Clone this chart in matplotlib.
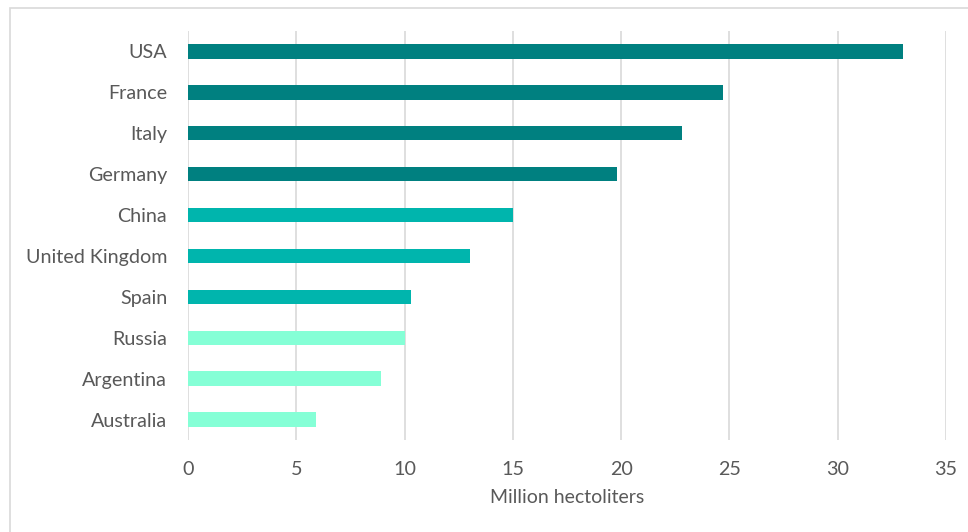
import matplotlib
matplotlib.use("Agg")
import matplotlib.pyplot as plt
from matplotlib.patches import Rectangle

countries = ["USA", "France", "Italy", "Germany", "China", "United Kingdom",
             "Spain", "Russia", "Argentina", "Australia"]
values = [33.0, 24.7, 22.8, 19.8, 15.0, 13.0, 10.3, 10.0, 8.9, 5.9]
colors = ["#008080"] * 4 + ["#00B5AD"] * 3 + ["#85FFD6"] * 3
xticks = [0, 5, 10, 15, 20, 25, 30, 35]

plt.rcParams['font.family'] = ['Lato', 'DejaVu Sans']

fig = plt.figure(figsize=(9.68, 5.32), dpi=100)
W, H = 968, 532
ax = fig.add_axes([188 / W, 1 - 440 / H, (946 - 188) / W, (440 - 31) / H])

# outer border
fig.patches.append(Rectangle((10 / W, -0.1), 1.0, 1 - 8 / H + 0.1, transform=fig.transFigure,
                             fill=False, edgecolor="#d9d9d9", linewidth=1.2))

ypos = list(range(len(countries)))
ax.barh(ypos, values, height=0.35, color=colors, zorder=3)
ax.set_ylim(len(countries) - 0.5, -0.5)
ax.set_xlim(0, 35)
ax.set_xticks(xticks)
ax.set_xticklabels([str(t) for t in xticks])
ax.set_yticks(ypos)
ax.set_yticklabels(countries)
ax.grid(axis="x", color="#d9d9d9", linewidth=1.2, zorder=0)
for s in ax.spines.values():
    s.set_visible(False)
ax.tick_params(axis="both", length=0, labelsize=14.2, colors="#595959")
ax.tick_params(axis="x", pad=15)
ax.tick_params(axis="y", pad=15)
ax.set_xlabel("Million hectoliters", fontsize=14, color="#595959", labelpad=8)

fig.savefig("out.png", dpi=100)
